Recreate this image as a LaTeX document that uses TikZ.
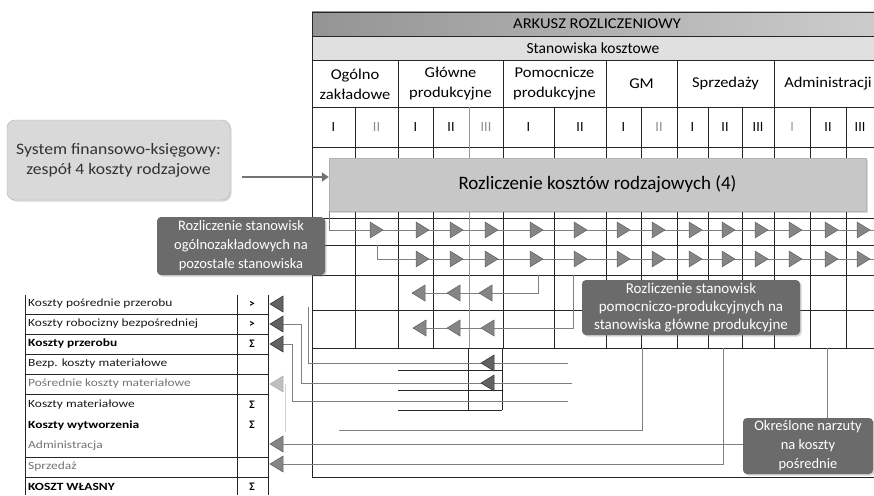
\documentclass[tikz,border=0pt]{standalone}
\usepackage{fontspec}
\setmainfont{Carlito}
\newfontfamily\widefont[FakeStretch=1.22]{Carlito}
\newfontfamily\semiwide[FakeStretch=1.1]{Carlito}
\usetikzlibrary{positioning,shadows,arrows.meta}

% small triangular markers, tip at the given point
\newcommand\pointr[3][tri]{\filldraw[#1] (#2,#3) -- ++(-13,-8) -- ++(0,16) -- cycle;}
\newcommand\pointl[3][tri]{\filldraw[#1] (#2,#3) -- ++(13,-8) -- ++(0,16) -- cycle;}

\begin{document}
\begin{tikzpicture}[x=1pt,y=-1pt,
    grid/.style={black!85,line width=.8pt},
    link/.style={black!50,line width=.9pt},
    tri/.style={fill=black!48,draw=black!62,line width=.5pt},
    darktri/.style={fill=black!62,draw=black!80,line width=.5pt},
    palet/.style={fill=black!25,draw=black!32,line width=.5pt},
    callout/.style={rounded corners=4pt,fill=black!58,text=white,align=center,inner sep=2pt,
        font=\fontsize{14.5}{19}\selectfont,
        drop shadow={shadow xshift=1.5pt,shadow yshift=-1.5pt,opacity=.35}},
    cell/.style={font=\widefont\fontsize{11}{12}\selectfont,anchor=west,inner sep=0pt},
    plain/.style={black!90}, strong/.style={font=\widefont\fontsize{11}{12}\selectfont\bfseries},
    faint/.style={black!55}]
    \useasboundingbox (0,0) rectangle (874,495);

    % header of the sheet
    \fill[left color=black!42,right color=black!20] (312,12) rectangle (874,36);
    \fill[black!12] (312,36) rectangle (874,60);
    \node[font=\semiwide\fontsize{15}{17}\selectfont] (arkusz) at (597,24) {ARKUSZ ROZLICZENIOWY};
    \node[font=\fontsize{15.5}{17}\selectfont] (stan) at (593,48) {Stanowiska kosztowe};

    \foreach \y in {12,36,60,107,147,218,245,275,310,348}
        \draw[grid] (312,\y) -- (874,\y);
    \draw[grid] (312,12) -- (312,477) -- (874,477);
    \foreach \x in {398,503,606,677,774}
        \draw[grid] (\x,60) -- (\x,348);
    \foreach \x in {355,433,554,641,708,742,810,846}
        \draw[grid] (\x,107) -- (\x,348);
    \draw[grid,black!40] (469,107) -- (469,348);

    \foreach \x/\t in {355/{Ogólno\\zakładowe}, 450.5/{Główne\\produkcyjne},
        554.5/{Pomocnicze\\produkcyjne}, 641.5/GM, 725.5/Sprzedaży, 828/Administracji}
        \node[align=center,font=\semiwide\fontsize{15}{20}\selectfont,inner sep=0pt] at (\x,84) {\t};
    \foreach \x/\t/\c in {333.5/I/black, 376.5/II/black!45, 415.5/I/black, 451/II/black,
        486/III/black!45, 528.5/I/black, 580/II/black, 623.5/I/black, 659/II/black!45,
        692.5/I/black, 725/II/black, 758/III/black, 792/I/black!40, 828/II/black, 860/III/black}
        \node[text=\c,font=\fontsize{14}{16}\selectfont] at (\x,127) {\t};

    % costs by type spread over all the cost centres
    \node[fill=black!22,draw=black!30,minimum width=537pt,minimum height=53pt,
        font=\fontsize{19}{22}\selectfont,
        drop shadow={shadow xshift=1.5pt,shadow yshift=-1.5pt,opacity=.3}]
        (rk) at (597.5,184.5) {Rozliczenie kosztów rodzajowych (4)};

    % general centres passed on to the others
    \draw[link] (rk.south -| 329,0) |- (874,230);
    \draw[link] (377,245) |- (874,259);
    \foreach \x in {383,429,463,498,543,587,630,665,702,735,768,802,838,870}
        {\pointr{\x}{230}}
    \foreach \x in {429,463,498,543,587,630,665,702,735,768,802,838,870}
        {\pointr{\x}{259}}

    % auxiliary centres passed on to the main ones
    \draw[link] (538,275) |- (412,293);
    \draw[link] (573,275) |- (413,328);
    \foreach \x in {412,447,479}
        {\pointl{\x}{293}}
    \foreach \x in {413,447,481}
        {\pointl{\x}{328}}

    % small block under the main production centres
    \draw[grid] (468,348) -- (468,410);
    \draw[grid] (502,348) -- (502,410);
    \foreach \y in {370,390,410}
        \draw[grid] (398,\y) -- (502,\y);

    % calculation of the unit cost
    \foreach \y in {314,334,354,374,394,457,477}
        \draw[grid] (25,\y) -- (268,\y);
    \foreach \x in {25,237,268}
        \draw[grid] (\x,295) -- (\x,495);
    \foreach \n/\y/\t/\f/\s in {1/304/Koszty pośrednie przerobu/plain/>,
        2/324/Koszty robocizny bezpośredniej/plain/>,
        3/344/Koszty przerobu/strong/Σ,
        4/364/Bezp. koszty materiałowe/plain/,
        5/384/Pośrednie koszty materiałowe/faint/,
        6/405/Koszty materiałowe/plain/Σ,
        7/425/Koszty wytworzenia/strong/Σ,
        8/446/Administracja/faint/,
        9/467/Sprzedaż/faint/,
        10/487/KOSZT WŁASNY/strong/Σ}
    {
        \node[cell,\f] (r\n) at (28,\y) {\t};
        \node[font=\fontsize{11.5}{12}\selectfont\bfseries] (s\n) at (252,\y) {\s};
    }

    \draw[link] (568,363) -- (308,363) -- (308,307);
    \draw[link] (572,383) -| (301,324) -- (283,324);
    \draw[link] (568,401) -| (292,344) -- (283,344);
    \draw[link,black!18] (285,384) -- (285,432);
    \draw[link] (339,430) -| (642,348);
    \draw[link] (723,348) |- (283,464);
    \pointl[darktri]{270}{304}
    \pointl[darktri]{270}{324}
    \pointl[darktri]{270}{344}
    \pointl[palet]{270}{384}
    \pointl{270}{444}
    \pointl{270}{464}
    \pointl[darktri]{481}{363}
    \pointl[darktri]{481}{383}

    % notes
    \node[rounded corners=8pt,fill=black!15,draw=black!30,minimum width=223pt,minimum height=80pt,
        align=center,text=black!80,font=\semiwide\fontsize{16}{20}\selectfont,
        drop shadow={shadow xshift=1.5pt,shadow yshift=-1.5pt,opacity=.3}]
        (sys) at (118.5,160) {System finansowo-księgowy:\\zespół 4 koszty rodzajowe};
    \draw[black!55,line width=2.5pt,-{Triangle[length=7pt,width=9pt]}]
        ([xshift=12pt,yshift=-17pt]sys.east) -- ([yshift=7.5pt]rk.west);

    \node[callout,minimum width=168pt,minimum height=58pt] (ogol) at (241,246)
        {Rozliczenie stanowisk\\ogólnozakładowych na\\pozostałe stanowiska};
    \node[callout,minimum width=218pt,minimum height=55pt,font=\fontsize{15}{18}\selectfont]
        (pomoc) at (691,307.5)
        {Rozliczenie stanowisk\\pomocniczo-produkcyjnych na\\stanowiska główne produkcyjne};
    \node[callout,minimum width=130pt,minimum height=56pt] (narz) at (808,446)
        {Określone narzuty\\na koszty\\pośrednie};

    \draw[link] ([yshift=2pt]narz.west) -- (283,444);
    \draw[link] (narz.north -| 827,0) -- (827,348);
\end{tikzpicture}
\end{document}
